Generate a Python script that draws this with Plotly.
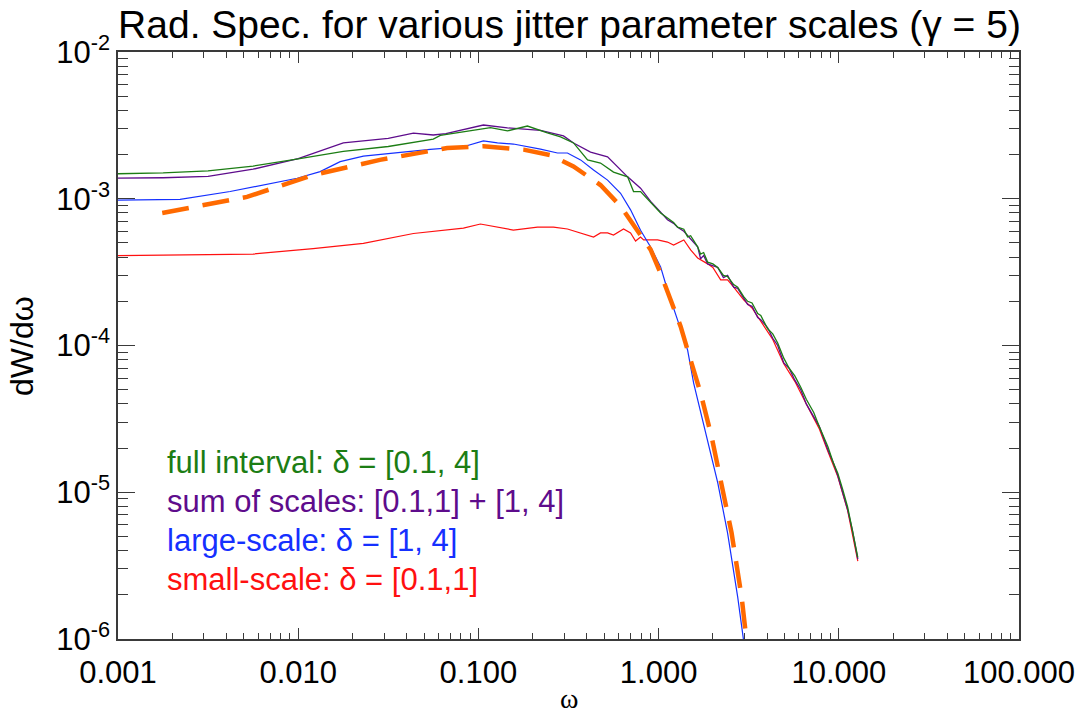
import plotly.graph_objects as go

# ---------------- data ----------------
green_x = [0.001, 0.00178, 0.00316, 0.00562, 0.01, 0.0178, 0.0316, 0.0562, 0.0615, 0.0869,
           0.0938, 0.1167, 0.145, 0.187, 0.2415, 0.2856, 0.3373, 0.4034, 0.476, 0.562,
           0.673, 0.726, 0.794, 0.903, 1.026, 1.12, 1.211, 1.275, 1.38, 1.449, 1.506, 1.647,
           1.71, 1.778, 1.871, 2.0, 2.13, 2.29, 2.415, 2.61, 2.748, 2.966, 3.12, 3.3, 3.548,
           3.69, 4.03, 4.3, 4.58, 4.95, 5.3, 5.7, 6.15, 6.6, 7.26, 7.8, 8.69, 9.3, 9.87,
           10.5, 11.2, 11.9, 12.75]
green_y = [1.48e-3, 1.50e-3, 1.55e-3, 1.67e-3, 1.87e-3, 2.10e-3, 2.27e-3, 2.55e-3, 2.70e-3, 2.88e-3,
           2.92e-3, 3.05e-3, 2.90e-3, 3.13e-3, 2.81e-3, 2.64e-3, 2.40e-3, 1.84e-3, 1.75e-3, 1.52e-3,
           1.41e-3, 1.12e-3, 1.12e-3, 9.4e-4, 8.0e-4, 7.4e-4, 6.9e-4, 6.4e-4, 6.2e-4, 5.5e-4, 5.6e-4, 4.7e-4,
           4.2e-4, 4.3e-4, 3.7e-4, 3.6e-4, 3.4e-4, 3.0e-4, 2.95e-4, 2.6e-4, 2.5e-4, 2.15e-4, 2.0e-4, 1.95e-4, 1.65e-4,
           1.6e-4, 1.3e-4, 1.2e-4, 1.04e-4, 8.2e-5, 7.0e-5, 6.2e-5, 5.2e-5, 4.3e-5, 3.5e-5, 2.8e-5, 2.05e-5, 1.6e-5, 1.35e-5,
           1.05e-5, 7.9e-6, 5.5e-6, 3.6e-6]

purple_x = [0.001, 0.00178, 0.00316, 0.00562, 0.01, 0.0178, 0.0316, 0.0436, 0.0562, 0.066,
            0.1066, 0.145, 0.221, 0.2966, 0.3373, 0.419, 0.521, 0.615, 0.673, 0.794, 0.903,
            1.026, 1.12, 1.211, 1.275, 1.38, 1.449, 1.506, 1.647, 1.71, 1.778, 1.871, 2.0, 2.13,
            2.29, 2.415, 2.61, 2.748, 2.966, 3.12, 3.3, 3.548, 3.69, 4.03, 4.3, 4.58, 4.95, 5.3,
            5.7, 6.15, 6.6, 7.26, 7.8, 8.69, 9.3, 9.87, 10.5, 11.2, 11.9, 12.75]
purple_y = [1.38e-3, 1.39e-3, 1.42e-3, 1.59e-3, 1.88e-3, 2.40e-3, 2.58e-3, 2.80e-3, 2.72e-3, 2.78e-3,
            3.18e-3, 3.04e-3, 2.92e-3, 2.68e-3, 2.40e-3, 2.08e-3, 1.93e-3, 1.57e-3, 1.41e-3, 1.18e-3, 9.6e-4,
            8.1e-4, 7.2e-4, 6.8e-4, 6.4e-4, 6.0e-4, 5.6e-4, 5.3e-4, 4.7e-4, 3.9e-4, 4.1e-4, 3.6e-4, 3.5e-4, 3.4e-4,
            2.9e-4, 3.0e-4, 2.5e-4, 2.45e-4, 2.1e-4, 1.9e-4, 1.85e-4, 1.55e-4, 1.5e-4, 1.32e-4, 1.12e-4, 1.0e-4, 7.6e-5, 7.0e-5,
            5.8e-5, 5.0e-5, 4.0e-5, 3.3e-5, 2.8e-5, 1.95e-5, 1.6e-5, 1.3e-5, 1.0e-5, 7.6e-6, 5.5e-6, 3.5e-6]

blue_x = [0.001, 0.00221, 0.00419, 0.0064, 0.00987, 0.01324, 0.0171, 0.023, 0.0355, 0.0541,
          0.0826, 0.1066, 0.1276, 0.1563, 0.221, 0.2748, 0.312, 0.369, 0.4355, 0.521, 0.615,
          0.699, 0.794, 0.903, 1.026, 1.12, 1.275, 1.449, 1.565, 1.778, 2.13, 2.415, 2.748, 3.05]
blue_y = [9.8e-4, 9.9e-4, 1.12e-3, 1.24e-3, 1.38e-3, 1.53e-3, 1.79e-3, 1.95e-3, 2.06e-3, 2.17e-3,
          2.26e-3, 2.48e-3, 2.40e-3, 2.36e-3, 2.18e-3, 2.05e-3, 2.05e-3, 1.84e-3, 1.57e-3, 1.34e-3, 1.09e-3,
          8.4e-4, 6.1e-4, 4.69e-4, 3.43e-4, 2.39e-4, 1.49e-4, 9.3e-5, 5.55e-5, 2.96e-5, 1.16e-5, 5.27e-6, 1.93e-6, 7.5e-7]

red_x = [0.001, 0.00178, 0.00316, 0.00562, 0.0121, 0.023, 0.0436, 0.0673, 0.0826, 0.1026,
         0.1563, 0.2128, 0.261, 0.312, 0.355, 0.4355, 0.476, 0.521, 0.562, 0.639, 0.699, 0.745,
         0.794, 0.826, 0.987, 1.12, 1.211, 1.38, 1.506, 1.647, 1.871, 2.0, 2.21, 2.415, 2.61,
         2.966, 3.3, 3.69, 4.3, 4.95, 5.7, 6.6, 7.8, 8.69, 9.87, 11.2, 12.75]
red_y = [4.1e-4, 4.12e-4, 4.15e-4, 4.2e-4, 4.57e-4, 4.97e-4, 5.8e-4, 6.1e-4, 6.3e-4, 6.73e-4,
         6.12e-4, 6.41e-4, 6.41e-4, 6.22e-4, 5.93e-4, 5.48e-4, 5.85e-4, 5.85e-4, 5.66e-4, 6.22e-4, 5.85e-4, 5.15e-4,
         5.48e-4, 5.24e-4, 5.24e-4, 5.07e-4, 4.84e-4, 5.24e-4, 4.48e-4, 3.95e-4, 3.6e-4, 3.4e-4, 2.8e-4, 2.8e-4, 2.5e-4,
         2.05e-4, 1.8e-4, 1.45e-4, 1.1e-4, 7.5e-5, 5.7e-5, 4.0e-5, 2.7e-5, 1.9e-5, 1.28e-5, 7.5e-6, 3.4e-6]

orange_x = [0.00176, 0.0052, 0.0121, 0.0284, 0.0671, 0.1066, 0.178, 0.251, 0.337, 0.476,
            0.615, 0.794, 0.903, 1.026, 1.166, 1.325, 1.449, 1.71, 1.97, 2.24, 2.54, 2.89, 3.1]
orange_y = [8.0e-4, 1.03e-3, 1.45e-3, 1.84e-3, 2.22e-3, 2.28e-3, 2.16e-3, 1.98e-3, 1.66e-3, 1.24e-3,
            8.9e-4, 5.7e-4, 4.5e-4, 3.1e-4, 2.05e-4, 1.35e-4, 9.3e-5, 4.74e-5, 2.38e-5, 1.16e-5, 5.3e-6, 1.93e-6, 9.0e-7]

x_tickvals = [0.001, 0.01, 0.1, 1, 10, 100]
x_ticktext = ["0.001", "0.010", "0.100", "1.000", "10.000", "100.000"]
y_tickvals = [1e-6, 1e-5, 1e-4, 1e-3, 1e-2]
y_ticktext = ["10<sup>-6</sup>", "10<sup>-5</sup>", "10<sup>-4</sup>", "10<sup>-3</sup>", "10<sup>-2</sup>"]

legend_labels = ["full interval: \u03b4 = [0.1, 4]",
                 "sum of scales: [0.1,1] + [1, 4]",
                 "large-scale: \u03b4 = [1, 4]",
                 "small-scale: \u03b4 = [0.1,1]"]

# ---------------- styles ----------------
C_GREEN = "#1c7d14"
C_PURPLE = "#5e0c8c"
C_BLUE = "#1530ff"
C_RED = "#ff1010"
C_ORANGE = "#ff6a00"
FONT = "Liberation Sans, Arial, Helvetica, sans-serif"

# plot-area geometry in pixels (used for text placement only)
L, R, T, B = 118, 1019, 52, 639
PW, PH = R - L, B - T

fig = go.Figure()
fig.add_trace(go.Scatter(x=red_x, y=red_y, mode="lines", line=dict(color=C_RED, width=1.2)))
fig.add_trace(go.Scatter(x=blue_x, y=blue_y, mode="lines", line=dict(color=C_BLUE, width=1.2)))
fig.add_trace(go.Scatter(x=purple_x, y=purple_y, mode="lines", line=dict(color=C_PURPLE, width=1.3)))
fig.add_trace(go.Scatter(x=green_x, y=green_y, mode="lines", line=dict(color=C_GREEN, width=1.3)))
fig.add_trace(go.Scatter(x=orange_x, y=orange_y, mode="lines", line=dict(color=C_ORANGE, width=4.5, dash="27px,14px")))

axis_common = dict(
    showgrid=False, zeroline=False, showline=True, linecolor="#3a3a3a", linewidth=1.5,
    mirror="allticks", ticks="inside", tickcolor="#3a3a3a", tickwidth=1.3, automargin=False,
    tickfont=dict(family=FONT, size=31, color="black"),
)

fig.update_xaxes(type="log", range=[-3, 2], tickvals=x_tickvals, ticktext=x_ticktext,
                 ticklen=11, ticklabelstandoff=5,
                 minor=dict(ticks="inside", ticklen=6, dtick="D1", tickcolor="#3a3a3a", tickwidth=1.1, showgrid=False),
                 **axis_common)
fig.update_yaxes(type="log", range=[-6, -2], tickvals=y_tickvals, ticktext=y_ticktext,
                 ticklen=17,
                 minor=dict(ticks="inside", ticklen=10, dtick="D1", tickcolor="#3a3a3a", tickwidth=1.1, showgrid=False),
                 **axis_common)

# axis titles
fig.add_annotation(text="\u03c9", xref="paper", yref="paper", x=0.5, y=(B - 716) / PH,
                   xanchor="center", yanchor="bottom", showarrow=False,
                   font=dict(family="Liberation Serif, Times New Roman, serif", size=28, color="black"))
fig.add_annotation(text="dW/d\u03c9", xref="paper", yref="paper", x=(22 - L) / PW, y=(B - 346) / PH,
                   xanchor="center", yanchor="middle", showarrow=False, textangle=-90,
                   font=dict(family=FONT, size=32, color="black"))

ys = [462, 501, 540, 579]
cols = [C_GREEN, C_PURPLE, C_BLUE, C_RED]
for lab, py, col in zip(legend_labels, ys, cols):
    fig.add_annotation(text=lab, xref="paper", yref="paper", x=(165 - L) / PW, y=(B - py) / PH,
                       xanchor="left", yanchor="middle", showarrow=False,
                       font=dict(family=FONT, size=31, color=col))

fig.update_layout(
    width=1082, height=719,
    margin=dict(l=L, r=1082 - R, t=T, b=719 - B),
    paper_bgcolor="white", plot_bgcolor="white",
    showlegend=False,
    title=dict(text="Rad. Spec. for various jitter parameter scales (\u03b3 = 5)",
               x=(L + 1021) / 2 / 1082, xanchor="center", xref="container",
               y=1 - 24 / 719, yanchor="middle", yref="container",
               font=dict(family=FONT, size=39, color="black")),
)

fig.write_html("out.html")
